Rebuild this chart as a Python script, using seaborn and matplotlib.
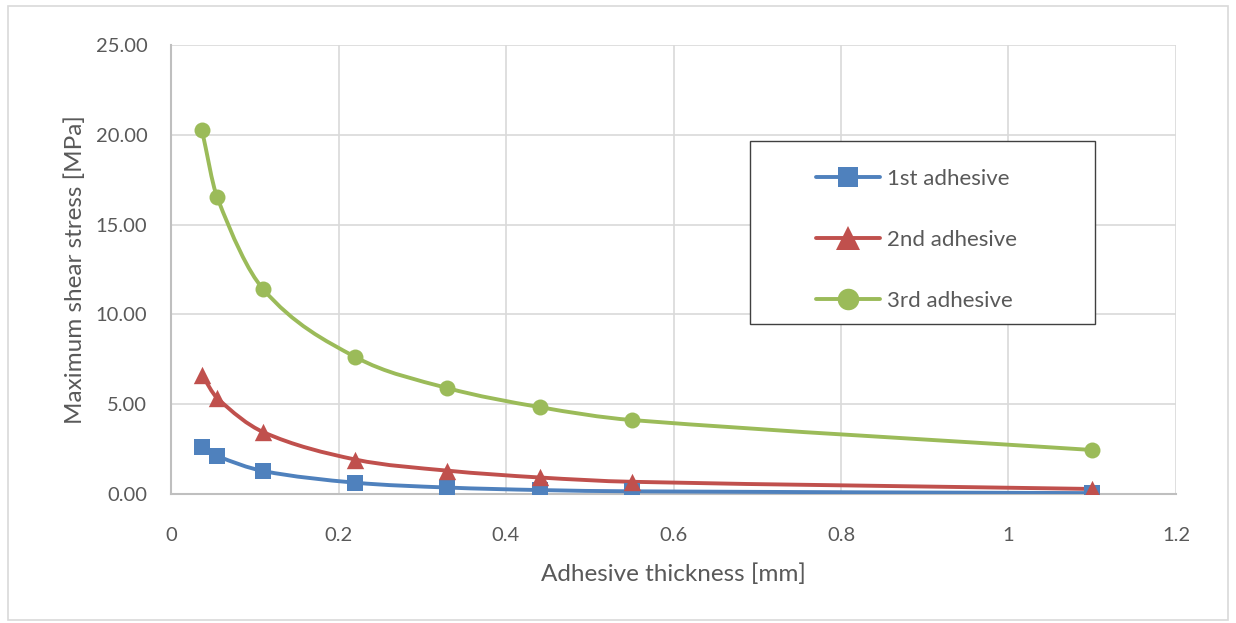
import numpy as np
import pandas as pd
import matplotlib
matplotlib.use("Agg")
import matplotlib.pyplot as plt
import seaborn as sns
from matplotlib.path import Path
from matplotlib.patches import PathPatch, Rectangle
from matplotlib.lines import Line2D

# Data
thickness = [0.037, 0.055, 0.11, 0.22, 0.33, 0.44, 0.55, 1.1]
stress_1st = [2.62, 2.12, 1.28, 0.63, 0.36, 0.22, 0.15, 0.05]
stress_2nd = [6.63, 5.35, 3.45, 1.92, 1.30, 0.92, 0.68, 0.28]
stress_3rd = [20.25, 16.54, 11.41, 7.63, 5.90, 4.84, 4.12, 2.45]
series_names = ["1st adhesive", "2nd adhesive", "3rd adhesive"]

COLORS = ["#4F81BD", "#C0504D", "#9BBB59"]
MARKERS = ["s", "^", "o"]
MSIZE = [11, 12.5, 11.5]
TEXT = "#595959"

sns.set_theme(style="white")
plt.rcParams["font.family"] = ["Lato", "DejaVu Sans"]


def smooth_path(x, y):
    """Smoothed line as cubic bezier segments through the points (Excel style)."""
    x = np.asarray(x, float)
    y = np.asarray(y, float)
    n = len(x)
    slopes = np.empty(n)
    slopes[0] = (y[1] - y[0]) / (x[1] - x[0])
    slopes[-1] = (y[-1] - y[-2]) / (x[-1] - x[-2])
    for i in range(1, n - 1):
        slopes[i] = (y[i + 1] - y[i - 1]) / (x[i + 1] - x[i - 1])
    verts = [(x[0], y[0])]
    codes = [Path.MOVETO]
    for i in range(n - 1):
        h = (x[i + 1] - x[i]) / 3.0
        verts += [(x[i] + h, y[i] + slopes[i] * h),
                  (x[i + 1] - h, y[i + 1] - slopes[i + 1] * h),
                  (x[i + 1], y[i + 1])]
        codes += [Path.CURVE4] * 3
    return Path(verts, codes)


df = pd.DataFrame({
    "thickness": thickness * 3,
    "stress": stress_1st + stress_2nd + stress_3rd,
    "series": sum([[s] * len(thickness) for s in series_names], []),
})

fig = plt.figure(figsize=(12.36, 6.23), dpi=100)
ax = fig.add_axes([171 / 1236, 1 - 494 / 623, (1176 - 171) / 1236, (494 - 45) / 623])

# light frame around the whole chart
fig.patches.append(Rectangle((8 / 1236, 1 - 620 / 623), 1220 / 1236, 614 / 623,
                             transform=fig.transFigure, fill=False,
                             edgecolor="#d9d9d9", linewidth=1.2))

handles = []
for name, color, marker, ms in zip(series_names, COLORS, MARKERS, MSIZE):
    sub = df[df["series"] == name]
    ax.add_patch(PathPatch(smooth_path(sub["thickness"].values, sub["stress"].values),
                           facecolor="none", edgecolor=color, linewidth=2.8,
                           capstyle="round", zorder=3))
    sns.scatterplot(data=sub, x="thickness", y="stress", ax=ax, marker=marker,
                    color=color, s=ms ** 2, edgecolor=color, linewidth=0,
                    zorder=4, legend=False)
    handles.append(Line2D([0], [0], color=color, linewidth=2.8, marker=marker,
                          markersize=ms * 1.35, markeredgewidth=0))

ax.set_xlim(0, 1.2)
ax.set_ylim(0, 25)
ax.set_xticks(np.arange(0, 1.21, 0.2))
ax.set_xticklabels(["0", "0.2", "0.4", "0.6", "0.8", "1", "1.2"])
ax.set_yticks(np.arange(0, 25.1, 5))
ax.set_yticklabels([f"{v:.2f}" for v in np.arange(0, 25.1, 5)])
ax.grid(True, color="#d9d9d9", linewidth=1.2)
ax.set_axisbelow(True)
for side in ["top", "right"]:
    ax.spines[side].set_visible(False)
for side in ["left", "bottom"]:
    ax.spines[side].set_color("#bfbfbf")
    ax.spines[side].set_linewidth(1.5)
ax.tick_params(axis="both", length=0, labelsize=14.5, labelcolor=TEXT)
ax.tick_params(axis="x", pad=24)
ax.tick_params(axis="y", pad=17)

ax.set_xlabel("Adhesive thickness [mm]", fontsize=17.5, color=TEXT, labelpad=14)
ax.set_ylabel("Maximum shear stress [MPa]", fontsize=17.5, color=TEXT, labelpad=7)

# legend box drawn separately so its size matches the reference
ax.add_patch(Rectangle(((750 - 171) / 1005, (494 - 324) / 449), 345 / 1005, 183 / 449,
                       transform=ax.transAxes, facecolor="white",
                       edgecolor="#404040", linewidth=1.0, zorder=5))
leg = ax.legend(handles, series_names, loc="upper left",
                bbox_to_anchor=((816 - 171) / 1005, (494 - 169) / 449),
                fontsize=16, frameon=False, handlelength=2.9,
                labelspacing=1.85, borderpad=0, handletextpad=0.3,
                borderaxespad=0)
leg.set_zorder(6)
for t in leg.get_texts():
    t.set_color(TEXT)

fig.savefig("out.png", dpi=100)
